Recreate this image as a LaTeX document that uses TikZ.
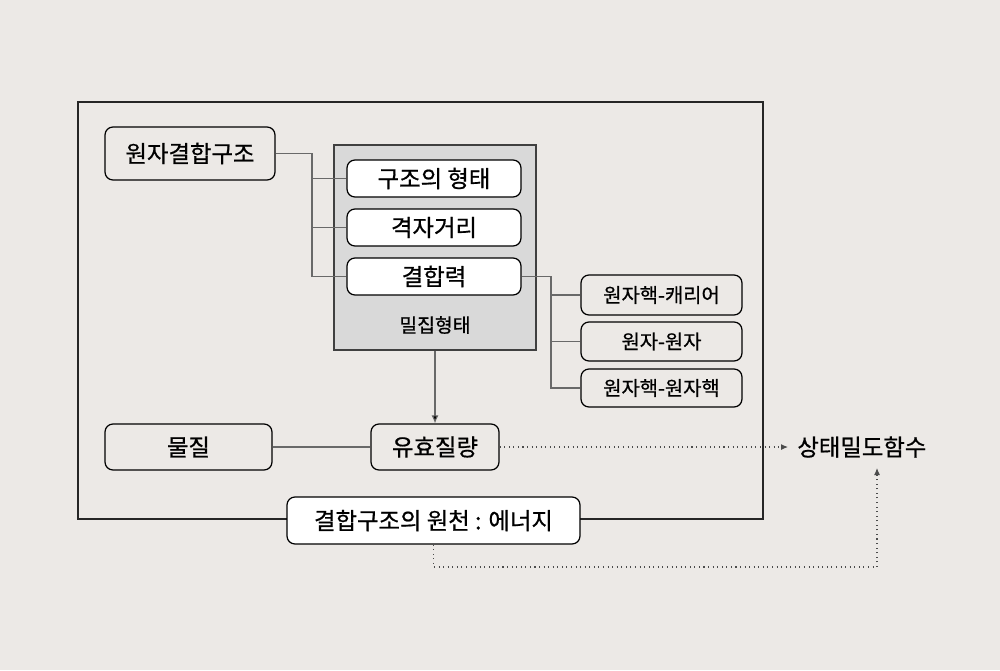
\documentclass[tikz,border=0pt]{standalone}
\usepackage{fontspec}
\setmainfont[FakeBold=0.7]{Noto Sans CJK KR}
\usetikzlibrary{calc,arrows.meta}
\definecolor{paper}{RGB}{236,233,230}
\definecolor{panel}{RGB}{217,217,217}
\definecolor{wire}{RGB}{105,105,105}
\newcommand{\Px}{0.02cm}
\tikzset{Box/.style={
    rounded corners=8*\Px,
    draw=black,
    line width=0.7pt,
    inner sep=0pt,
    align=center,
    font=\fontsize{13.3}{15}\selectfont,
    },
  WhiteBox/.style={Box, fill=white},
  SmallBox/.style={Box, font=\fontsize{11.3}{13}\selectfont},
  Wire/.style={draw=wire, line width=0.6pt},
  Dots/.style={draw=black!70, line width=0.6pt, dotted, -{Latex[length=7*\Px,width=6*\Px]}},
}

\begin{document}
\begin{tikzpicture}[x=\Px, y=-\Px]
    \useasboundingbox[fill=paper] (0,0) rectangle (1000,670);
    % outer frame
    \draw[line width=0.8pt, draw=black!85] (78,102) rectangle (763,519);
    % upper block
    \node [Box, minimum width=170*\Px, minimum height=53*\Px] (struct) at (190,153.5) {원자결합구조};
    \node [draw=black!75, fill=panel, line width=0.7pt, minimum width=202*\Px, minimum height=205*\Px] (dense) at (435,247.5) {};
    \node [WhiteBox, minimum width=174*\Px, minimum height=37*\Px] (shape) at (434,178.5) {구조의 형태};
    \node [WhiteBox, minimum width=174*\Px, minimum height=37*\Px] (lattice) at (434,227.5) {격자거리};
    \node [WhiteBox, minimum width=174*\Px, minimum height=37*\Px] (bond) at (434,276.5) {결합력};
    \node [font=\fontsize{11}{13}\selectfont] (denselabel) at (435,325) {밀집형태};
    % kinds of bond
    \node [SmallBox, minimum width=161*\Px, minimum height=40*\Px] (carrier) at (661.5,295) {원자핵-캐리어};
    \node [SmallBox, minimum width=161*\Px, minimum height=39*\Px] (atoms) at (661.5,341.5) {원자-원자};
    \node [SmallBox, minimum width=161*\Px, minimum height=38*\Px] (nuclei) at (661.5,388) {원자핵-원자핵};
    % lower block
    \node [Box, minimum width=167*\Px, minimum height=46*\Px] (matter) at (188.5,447) {물질};
    \node [Box, minimum width=128*\Px, minimum height=46*\Px] (mass) at (435,447) {유효질량};
    \node [WhiteBox, minimum width=293*\Px, minimum height=47*\Px] (energy) at (433.5,520.5) {결합구조의 원천 : 에너지};
    \node [font=\fontsize{13.3}{15}\selectfont, inner sep=0pt, anchor=west] (dos) at (797,447) {상태밀도함수};
    % connectors
    \coordinate (busL) at (312,153.5);
    \coordinate (busR) at (551,276.5);
    \coordinate (bend) at (877,567);
    \coordinate (dosin) at (877,468);
    \draw[Wire] (struct.east) -- (busL) |- (shape.west);
    \draw[Wire] (busL) |- (lattice.west);
    \draw[Wire] (busL) |- (bond.west);
    \draw[Wire] (bond.east) -- (busR) |- (carrier.west);
    \draw[Wire] (busR) |- (atoms.west);
    \draw[Wire] (busR) |- (nuclei.west);
    \draw[Wire, -{Latex[length=8*\Px,width=7*\Px,fill=black]}] (dense.south) -- (mass.north);
    \draw[Wire] (matter.east) -- (mass.west);
    \draw[Dots] (mass.east) -- ($(dos.west)+(-9,0)$);
    \draw[Dots] (energy.south) |- (bend) -- (dosin);
\end{tikzpicture}
\end{document}
